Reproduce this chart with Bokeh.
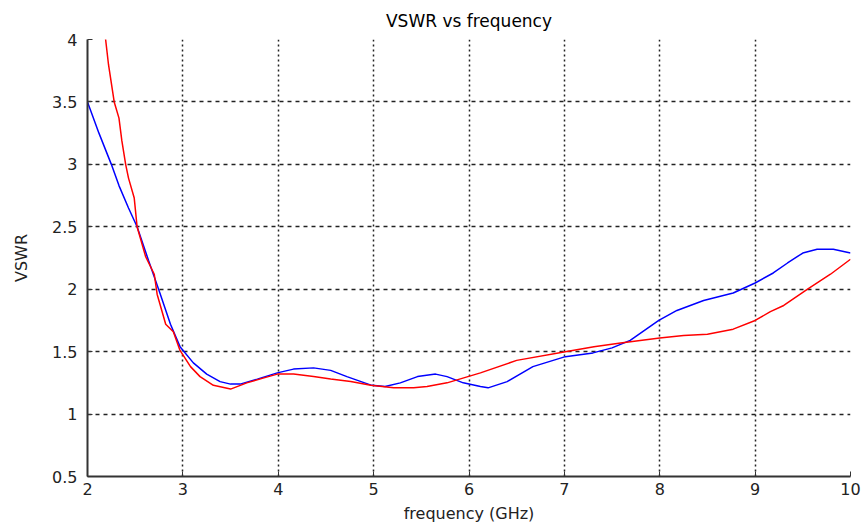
from bokeh.plotting import figure
from bokeh.embed import file_html
from bokeh.resources import INLINE
from bokeh.models import FixedTicker

# ---- data ----
blue_freq = [2.0, 2.12, 2.25, 2.33, 2.43, 2.52, 2.64, 2.75, 2.87, 2.97, 3.11, 3.25, 3.39, 3.5, 3.6,
             3.78, 3.99, 4.16, 4.37, 4.55, 4.72, 4.98, 5.12, 5.28, 5.46, 5.65, 5.77, 5.94, 6.12, 6.2,
             6.4, 6.67, 7.01, 7.3, 7.5, 7.69, 7.99, 8.18, 8.46, 8.77, 9.0, 9.19, 9.34, 9.5, 9.65,
             9.82, 10.0]
blue_vswr = [3.5, 3.25, 3.0, 2.83, 2.65, 2.5, 2.23, 1.99, 1.72, 1.54, 1.41, 1.32, 1.26, 1.24, 1.24,
             1.28, 1.33, 1.36, 1.37, 1.35, 1.30, 1.23, 1.22, 1.25, 1.30, 1.32, 1.30, 1.25, 1.22, 1.21,
             1.26, 1.38, 1.46, 1.49, 1.53, 1.59, 1.75, 1.83, 1.91, 1.97, 2.05, 2.13, 2.21, 2.29, 2.32,
             2.32, 2.29]

red_freq = [2.17, 2.19, 2.22, 2.28, 2.33, 2.36, 2.40, 2.43, 2.49, 2.52, 2.61, 2.70, 2.73, 2.82, 2.90,
            2.97, 3.08, 3.18, 3.32, 3.5, 3.67, 3.85, 3.99, 4.16, 4.37, 4.55, 4.76, 4.97, 5.21, 5.42,
            5.56, 5.77, 6.12, 6.5, 7.01, 7.31, 7.59, 8.0, 8.25, 8.5, 8.77, 9.0, 9.16, 9.3, 9.55,
            9.79, 10.0]
red_vswr = [4.15, 4.0, 3.80, 3.5, 3.37, 3.19, 3.0, 2.89, 2.73, 2.5, 2.26, 2.12, 1.96, 1.72, 1.66,
            1.51, 1.38, 1.30, 1.23, 1.20, 1.25, 1.29, 1.32, 1.32, 1.30, 1.28, 1.26, 1.23, 1.21, 1.21,
            1.22, 1.25, 1.33, 1.43, 1.50, 1.54, 1.57, 1.61, 1.63, 1.64, 1.68, 1.75, 1.82, 1.87, 2.0,
            2.12, 2.24]

x_ticks = [2, 3, 4, 5, 6, 7, 8, 9, 10]
y_ticks = [0.5, 1, 1.5, 2, 2.5, 3, 3.5, 4]

FONT = "DejaVu Sans"

p = figure(width=863, height=525, x_range=(2, 10), y_range=(0.5, 4),
           output_backend="svg", toolbar_location=None,
           min_border_left=87, min_border_right=13, min_border_top=38, min_border_bottom=48,
           title="VSWR vs frequency")

p.title.align = "center"
p.title.text_font = FONT
p.title.text_font_size = "17px"
p.title.text_font_style = "normal"
p.title.text_color = "#000000"
p.title.standoff = 17

p.outline_line_color = None
p.background_fill_color = "white"
p.border_fill_color = "white"

p.line(blue_freq, blue_vswr, line_color="#0000ff", line_width=1.5)
p.line(red_freq, red_vswr, line_color="#ff0000", line_width=1.5)

p.xaxis.ticker = FixedTicker(ticks=x_ticks)
p.yaxis.ticker = FixedTicker(ticks=y_ticks)
p.xaxis.major_label_overrides = {t: str(t) for t in x_ticks}
p.yaxis.major_label_overrides = {0.5: "0.5", 1: "1", 1.5: "1.5", 2: "2", 2.5: "2.5", 3: "3", 3.5: "3.5", 4: "4"}

for ax in (p.xaxis, p.yaxis):
    ax.axis_line_color = "#333333"
    ax.axis_line_width = 2
    ax.major_tick_in = 5
    ax.major_tick_out = 0
    ax.major_tick_line_color = "#333333"
    ax.minor_tick_line_color = None
    ax.major_label_text_font = FONT
    ax.major_label_text_font_size = "16px"
    ax.major_label_text_color = "#222222"
    ax.axis_label_text_font = FONT
    ax.axis_label_text_font_size = "16px"
    ax.axis_label_text_font_style = "normal"
    ax.axis_label_text_color = "#222222"

p.xaxis.axis_label = "frequency (GHz)"
p.yaxis.axis_label = "VSWR"
p.xaxis.major_label_standoff = 6
p.xaxis.axis_label_standoff = 6
p.yaxis.major_label_standoff = 10
p.yaxis.axis_label_standoff = 18

p.xgrid.grid_line_color = "#222222"
p.xgrid.grid_line_dash = "2 3"
p.xgrid.grid_line_width = 1.5
p.ygrid.grid_line_color = "#222222"
p.ygrid.grid_line_dash = "4 4"
p.ygrid.grid_line_width = 1.5

open("out.html", "w").write(file_html(p, INLINE))
